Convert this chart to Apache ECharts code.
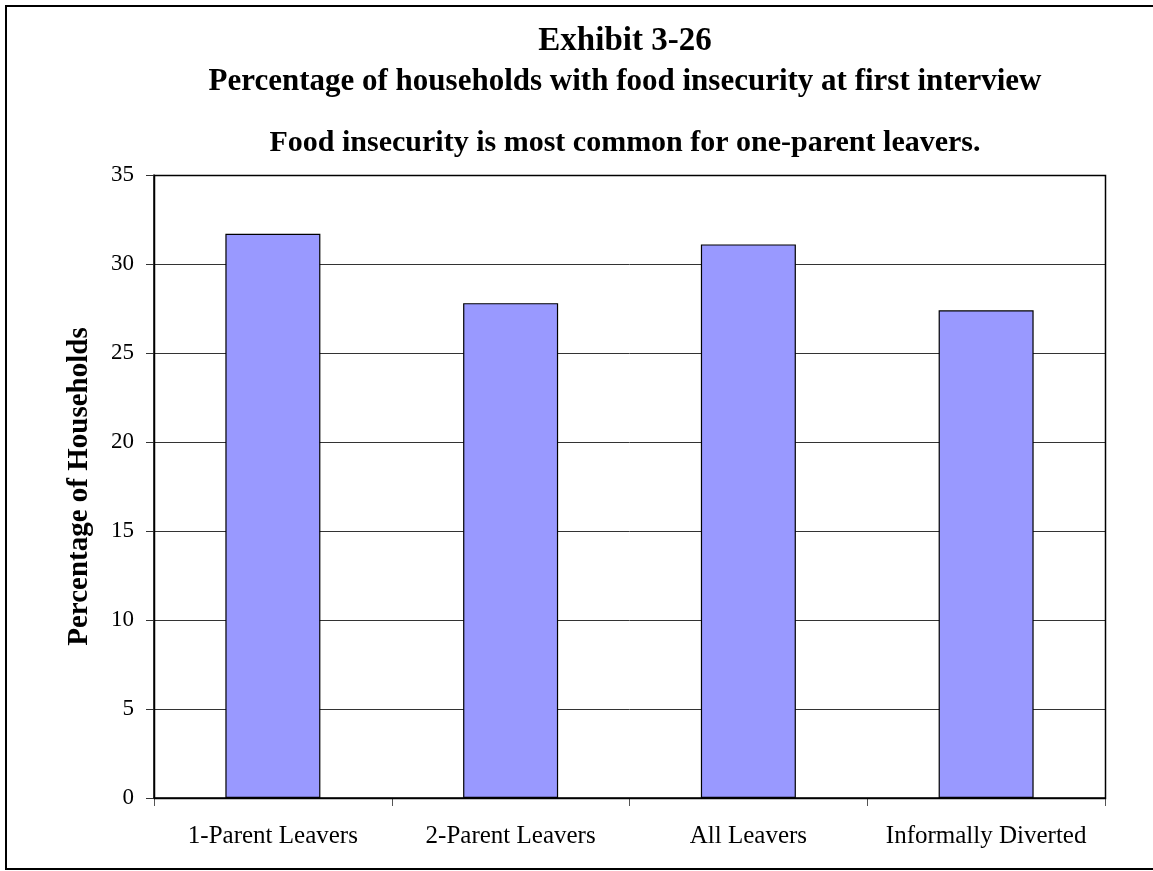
<!DOCTYPE html>
<html><head><meta charset="utf-8">
<script src="https://cdn.jsdelivr.net/npm/echarts@6/dist/echarts.min.js"></script>
<style>html,body{margin:0;padding:0;background:#fff}#c{width:1153px;height:871px}</style>
</head><body><div id="c"></div>
<script>
const categories = ['1-Parent Leavers', '2-Parent Leavers', 'All Leavers', 'Informally Diverted'];
const values = [31.7, 27.8, 31.1, 27.4];
const yTicks = [0, 5, 10, 15, 20, 25, 30, 35];
const titleText = 'Exhibit 3-26';
const subTitle1 = 'Percentage of households with food insecurity at first interview';
const subTitle2 = 'Food insecurity is most common for one-parent leavers.';
const yName = 'Percentage of Households';

const F = '"Liberation Serif","Times New Roman",serif';
const chart = echarts.init(document.getElementById('c'), null, {renderer: 'canvas'});
chart.setOption({
  animation: false,
  backgroundColor: '#fff',
  graphic: [
    {type: 'rect', shape: {x: 6, y: 6, width: 1160, height: 863}, style: {fill: 'none', stroke: '#000', lineWidth: 2}, z: 0},
    {type: 'rect', shape: {x: 154.5, y: 175.5, width: 951, height: 623}, style: {fill: 'none', stroke: '#000', lineWidth: 1.5}, z: 10},
    {type: 'text', x: 625, y: 41, style: {text: titleText, font: 'bold 33px ' + F, fill: '#000', align: 'center', verticalAlign: 'middle'}},
    {type: 'text', x: 625, y: 81.5, style: {text: subTitle1, font: 'bold 31px ' + F, fill: '#000', align: 'center', verticalAlign: 'middle'}},
    {type: 'text', x: 625, y: 143, style: {text: subTitle2, font: 'bold 30px ' + F, fill: '#000', align: 'center', verticalAlign: 'middle'}}
  ],
  grid: {left: 154, right: 48, top: 175, bottom: 73, containLabel: false},
  xAxis: {
    type: 'category', data: categories,
    axisLine: {lineStyle: {color: '#000', width: 1.5}},
    axisTick: {show: true, interval: 0, alignWithLabel: false, length: 8, lineStyle: {color: '#555'}},
    axisLabel: {color: '#000', fontFamily: F, fontSize: 25, margin: 26, interval: 0, hideOverlap: false}
  },
  yAxis: {
    type: 'value', min: 0, max: 35, interval: 5,
    name: yName, nameLocation: 'middle', nameGap: 60,
    nameTextStyle: {color: '#000', fontFamily: F, fontSize: 29, fontWeight: 'bold'},
    axisLine: {show: true, lineStyle: {color: '#000', width: 1.5}},
    axisTick: {show: true, length: 8, lineStyle: {color: '#333'}},
    axisLabel: {color: '#000', fontFamily: F, fontSize: 23, margin: 20,
      formatter: v => yTicks.includes(v) ? String(v) : ''},
    splitLine: {show: true, lineStyle: {color: '#333', width: 1}}
  },
  series: [{
    type: 'bar', data: values, barWidth: 95,
    itemStyle: {color: '#9999FF', borderColor: '#000', borderWidth: 1.2}
  }]
});
</script></body></html>
